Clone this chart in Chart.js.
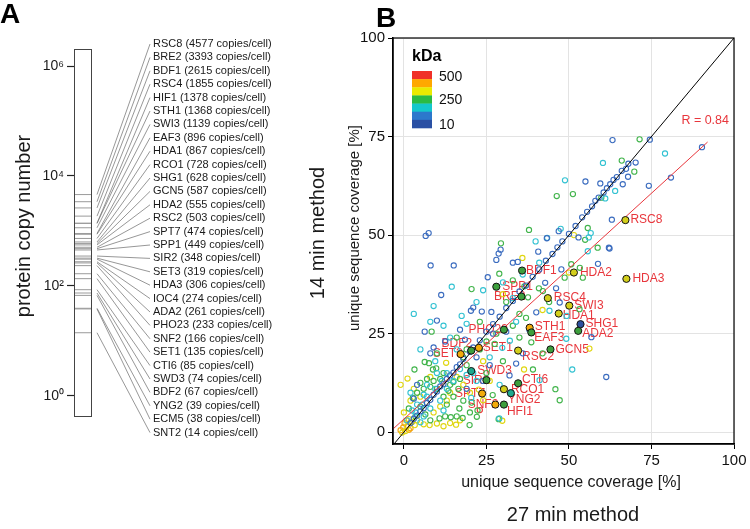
<!DOCTYPE html>
<html>
<head>
<meta charset="utf-8">
<script src="https://cdn.jsdelivr.net/npm/chart.js@4.4.1/dist/chart.umd.min.js"></script>
<style>
  body { margin: 0; background: #fff; }
  canvas { position: absolute; top: 0; }
  #chartA { left: 0; }
  #chartB { left: 300px; }
</style>
</head>
<body>
<canvas id="chartA" width="300" height="529"></canvas>
<canvas id="chartB" width="450" height="529"></canvas>
<script>
const FONT = "'Liberation Sans', Arial, sans-serif";

// ---- panel A: copy numbers ----
const proteinNames = ['RSC8', 'BRE2', 'BDF1', 'RSC4', 'HIF1', 'STH1', 'SWI3', 'EAF3', 'HDA1', 'RCO1',
    'SHG1', 'GCN5', 'HDA2', 'RSC2', 'SPT7', 'SPP1', 'SIR2', 'SET3', 'HDA3', 'IOC4',
    'ADA2', 'PHO23', 'SNF2', 'SET1', 'CTI6', 'SWD3', 'BDF2', 'YNG2', 'ECM5', 'SNT2'];
const copiesPerCell = [4577, 3393, 2615, 1855, 1378, 1368, 1139, 896, 867, 728,
    628, 587, 555, 503, 474, 449, 348, 319, 306, 274,
    261, 233, 166, 135, 85, 74, 67, 39, 38, 14];
const copyTicks = [1, 100, 10000, 1000000];

// ---- panel B: coverage 27 min (x) vs 14 min (y) ----
const axisTicks = [0, 25, 50, 75, 100];
const kdaLegendLabels = ['500', '250', '10'];
const pearsonR = 0.84;
const identityX = [-3.3, 100];
const identityY = [-3.3, 100];
const fitX = [-3.3, 92];
const fitY = [0.8, 73.6];

// hollow points, grouped by kDa colour band
const bluePts = [[2,2.3],[3,3.4],[4,4.2],[5,5.3],[6,6.1],[7,7.4],[8,8.2],[9,9.5],[10,10.3],[11,11.6],[12,12.2],[13,13.5],
    [14,14.4],[15,15.1],[16,16.5],[17,17.2],[18,18.6],[20,20.4],[21,21.5],[23,23.3],[25,25.5],[27,27.4],[29,29.3],
    [31,31.5],[33,33.3],[35,35.7],[37,37.2],[39,39.4],[41,41.3],[43,43.5],[45,45.2],[46.5,46.9],[48,48.4],[50,50.3],
    [52,52.3],[54,54.5],[55.5,55.9],[57,57.3],[58,58.7],[59,59.5],[60.5,60.8],[61.5,61.9],[62.5,62.9],[63.5,64],
    [64.5,64.7],[66,66.3],[68,68.1],[74.5,74.2],
    [6.6,49.8],[7.5,50.5],[8.1,42.3],[15.1,42.3],[11.3,34.8],[10,28.3],[6.3,25.5],[20.3,30.8],[21,31.6],[25.4,39.3],
    [28.7,45.3],[29.3,46.3],[28,43.7],[23.6,30.6],[26.5,30.5],[33,43],[34.5,43.2],[40.7,45.8],[46.9,51],[52.9,49.4],
    [62.1,46.8],[63,53.9],[58.8,42.7],[47.7,41.3],[42.8,37.9],[46.1,36.5],[40.1,30.4],[47.2,32.9],[56.8,24.1],[61.3,14],
    [34,17.4],[32,14.4],[63.2,74.1],[90.3,72.3],[70.2,68.4],[67.3,66.8],[67.9,64.8],[55,63.6],[59.5,63.1],[66.3,62.9],
    [80.9,64.6],[74.2,62.5],[43.3,49.2],[62.3,46.6],[12.5,23],[9,21.5],[17,26],[18.5,23.5],[4,12],[3,8.5],[27,25],
    [31,25.5],[26,17],[36,20],[38,26],[22,19],[24,13],[19,11],[8,20]];
const cyanPts = [[14.5,36.9],[9,32],[17.5,29.5],[39.9,48.4],[43.4,49.3],[47.5,51.6],[55.7,45.9],[60.3,68.3],[79.1,70.7],
    [48.8,63.9],[64,61.2],[61,59.3],[56.6,50.5],[56,49.4],[44.1,30.8],[49.3,29.5],[49.2,23.7],[51,15.9],[41.1,13.2],
    [32.1,23.2],[29.8,21.4],[3,30],[5,21],[8,28],[12,27],[19,27.5],[22,33],[24,36],[30,38],[36,40],[41,43],[14,24],
    [16,21],[9.5,18],[2,10],[4,7],[6,9.5],[8,6],[11,8],[13,11],[15,13],[17,16],[19,14.5],[21,15],[22,13],[20.4,8.7],
    [28.9,3.5],[26,19],[29,12],[7,12],[10,15],[5,2.5],[2.5,5.5],[12,5.5],[33,34],[34,28],[3.5,5],[5.5,7],[7,9],
    [9.5,11],[11.5,13],[13,15],[6,4],[1,3]];
const greenPts = [[71.4,74.3],[66,68.9],[69.8,66.1],[46.3,59.9],[51.2,60.4],[59.8,59.5],[55.7,51.8],[54.9,48.8],[37.9,51.3],
    [58.7,46.8],[53.3,41.7],[50.7,42.6],[48.7,39.2],[54.2,39.2],[42.1,35.8],[40.9,36.5],[37.6,34.2],[53.2,31.2],[47.2,8.1],
    [45.9,10.9],[39.1,15.9],[38.6,22.8],[27.5,22.4],[28.7,3.3],[22.1,3.9],[22.3,5.5],[26.9,9.4],[20.5,36.3],[8.4,25.5],
    [29.4,47.9],[28.9,40.2],[3.2,15.9],[8.8,15.9],[9.8,16.2],[6.3,17.8],[7.6,17.5],[2.7,8.7],[10.8,3.5],[12.5,4],
    [14.2,3.8],[16,4],[17.8,3.6],[19.9,1.8],[16.8,6],[12,9],[13.5,10.5],[15,12.7],[16.5,11],[14,12],[20,5],[20.5,7.5],
    [4,10],[5,12.5],[6,11],[7,13.5],[8,11.5],[9,13],[10,11],[11,13.5],[12,15],[5,6.5],[6.5,4.5],[8,3],[3.5,4],[1.5,6],
    [18,19],[23,21],[25,23],[28,25],[33,27],[35,30],[31,33],[37,29],[25,15],[30,18],[35,24],[42,20],[44,33],[10,20],
    [16,24],[19,21],[15,9],[18,8],[13,7],[36.5,37],[33,38.5],[23,28],[19,17],[17,13.5]];
const yellowPts = [[51.5,50],[35.9,44.2],[56.2,21.2],[36.4,15.9],[1.1,13.6],[12.8,17.6],[1.5,3.3],[2.5,2.6],[3.3,1.8],
    [7.8,1.8],[10,2.2],[12,1.5],[14,2.3],[15.8,1.9],[22.7,10.8],[24,8.1],[29.8,2.9],[0.5,0.3],[-0.5,-0.1],[1,1.5],[4,3],
    [6,2],[9,5],[11,6.5],[13,8],[5,9],[3,11],[8,14],[14,10],[16,14],[18,12],[20,10],[0,5],[2,8],[-1,12],[26,13],[17,3],
    [30,35],[42,31],[50,40.5],[24,18]];
const orangePts = [[0.2,2.3],[1.5,0.6],[-0.2,1.2],[0.8,3],[2,1],[17,20],[-1,0.5]];
const redPts = [[23,5.6]];

// highlighted complex members
const hlNames = ['RSC8', 'BDF1', 'HDA2', 'HDA3', 'SPP1', 'BRE2', 'RSC4', 'SWI3', 'HDA1', 'SHG1', 'ADA2', 'STH1', 'EAF3', 'PHO23',
    'GCN5', 'RSC2', 'SET1', 'BDF2', 'SET3', 'SWD3', 'SIR2', 'CTI6', 'RCO1', 'YNG2', 'SPT7', 'SNF2', 'HFI1'];
const hlX27 = [67.1, 35.8, 51.5, 67.4, 28.0, 35.6, 43.6, 50.1, 46.9, 53.5, 52.8, 38.1, 38.6, 30.3,
    44.4, 34.6, 22.7, 20.4, 17.2, 20.4, 25.0, 34.6, 30.3, 32.4, 23.7, 27.7, 30.3];
const hlY14 = [53.8, 41.0, 40.5, 38.9, 36.9, 34.4, 34.0, 32.1, 30.1, 27.4, 25.7, 26.5, 25.3, 26.0,
    21.0, 20.7, 21.4, 20.7, 19.8, 15.5, 13.2, 12.4, 10.9, 9.9, 9.8, 7.0, 7.0];
const hlBand = ['yellow', 'green', 'yellow', 'yellow', 'green', 'green', 'yellow', 'yellow', 'yellow', 'blue', 'green', 'orange', 'green', 'green',
    'green', 'yellow', 'orange', 'green', 'orange', 'cyan', 'green', 'green', 'yellow', 'cyan', 'orange', 'orange', 'green'];

// ---- styles / layout ----
const bandColors = { blue: '#3b6cbf', cyan: '#33c2d2', green: '#41b44b', yellow: '#e0d610', orange: '#f5a40c', red: '#ea3434' };
const hlFill = { blue: '#2c4f9e', cyan: '#1fa98e', green: '#3d9f3d', yellow: '#d3cf1b', orange: '#f3ab0a' };
const legendBar = ['#f03028', '#ffa800', '#eaea00', '#2bbb43', '#14c8cc', '#2c78cc', '#2a50a4'];
const LABEL_RED = '#e8363c';
// label offsets [dx, dy, align]
const hlLabelPos = {
    RSC8: [5, 0, 'left'], BDF1: [4, 0, 'left'], HDA2: [6, 0, 'left'], HDA3: [6, 0, 'left'], SPP1: [6, 0, 'left'],
    BRE2: [4, 0, 'right'], RSC4: [6, 0, 'left'], SWI3: [5, 0, 'left'], HDA1: [4, 2, 'left'], SHG1: [5, 0, 'left'],
    ADA2: [4, 3, 'left'], STH1: [5, -1, 'left'], EAF3: [3, 5, 'left'], PHO23: [4, 0, 'right'], GCN5: [5, 0, 'left'],
    RSC2: [4, 6, 'left'], SET1: [4, 0, 'left'], BDF2: [1, -7, 'right'], SET3: [2, 0, 'right'], SWD3: [6, 0, 'left'],
    SIR2: [3, 1, 'right'], CTI6: [4, -4, 'left'], RCO1: [7, 0, 'left'], YNG2: [-3, 7, 'left'], SPT7: [3, 0, 'right'],
    SNF2: [3, 0, 'right'], HFI1: [3, 7, 'left']
};

Chart.defaults.font.family = FONT;
Chart.defaults.color = '#1a1a1a';

const supDigits = { 0: '\u2070', 2: '\u00B2', 4: '\u2074', 6: '\u2076' };

// ===== panel A =====
const panelA = {
    id: 'panelA',
    afterDraw(chart) {
        const { ctx, chartArea: a } = chart;
        const ys = chart.scales.y;
        ctx.save();
        ctx.strokeStyle = '#444';
        ctx.lineWidth = 1;
        ctx.strokeRect(a.left + 0.5, a.top + 0.5, a.width - 1, a.height - 1);

        const slotTop = 44, slotGap = 13.4, labelX = 153;
        ctx.font = `11px ${FONT}`;
        ctx.textAlign = 'left';
        ctx.textBaseline = 'middle';
        proteinNames.forEach((name, i) => {
            const y0 = ys.getPixelForValue(copiesPerCell[i]);
            const ly = slotTop + i * slotGap;
            ctx.strokeStyle = '#6a6a6a';
            ctx.lineWidth = 0.7;
            ctx.beginPath();
            ctx.moveTo(a.right + 5, y0);
            ctx.lineTo(labelX - 3, ly);
            ctx.stroke();
            ctx.fillStyle = '#1a1a1a';
            ctx.fillText(`${name} (${copiesPerCell[i]} copies/cell)`, labelX, ly);
        });

        ctx.fillStyle = '#000';
        ctx.font = `bold 28px ${FONT}`;
        ctx.textBaseline = 'alphabetic';
        ctx.fillText('A', 0, 23);

        ctx.translate(24, 226);
        ctx.rotate(-Math.PI / 2);
        ctx.font = `20px ${FONT}`;
        ctx.textAlign = 'center';
        ctx.textBaseline = 'middle';
        ctx.fillStyle = '#1a1a1a';
        ctx.fillText('protein copy number', 0, 0);
        ctx.restore();
    }
};

new Chart(document.getElementById('chartA'), {
    type: 'scatter',
    data: {
        datasets: [{
            data: copiesPerCell.map(c => ({ x: 0.5, y: c })),
            pointStyle: 'line',
            pointRadius: 9,
            pointBorderColor: '#9a9a9a',
            pointBorderWidth: 1
        }]
    },
    options: {
        responsive: false,
        animation: false,
        devicePixelRatio: 1,
        layout: { padding: { left: 0, top: 49, right: 208, bottom: 112 } },
        plugins: { legend: { display: false }, tooltip: { enabled: false } },
        scales: {
            x: { type: 'linear', min: 0, max: 1, display: false },
            y: {
                type: 'logarithmic',
                min: 0.41,
                max: 2.04e6,
                afterBuildTicks: s => { s.ticks = copyTicks.map(v => ({ value: v })); },
                afterFit: s => { s.width = 74; },
                grid: { drawOnChartArea: false, tickLength: 7, tickColor: '#222', tickWidth: 1.2 },
                border: { display: false },
                ticks: {
                    font: { size: 14 },
                    padding: 3,
                    callback: v => '10' + supDigits[Math.round(Math.log10(v))]
                }
            }
        }
    },
    plugins: [panelA]
});

// ===== panel B =====
const toXY = pts => pts.map(([x, y]) => ({ x, y }));
const hollow = (pts, band) => ({
    data: toXY(pts),
    pointRadius: 2.6,
    pointBorderWidth: 1.1,
    pointBackgroundColor: 'rgba(0,0,0,0)',
    pointBorderColor: bandColors[band]
});

const panelB = {
    id: 'panelB',
    beforeDatasetsDraw(chart) {
        const { ctx } = chart;
        const meta = chart.getDatasetMeta(0);
        ctx.save();
        ctx.font = `12px ${FONT}`;
        ctx.fillStyle = LABEL_RED;
        ctx.textBaseline = 'middle';
        hlNames.forEach((name, i) => {
            const el = meta.data[i];
            const [dx, dy, align] = hlLabelPos[name];
            ctx.textAlign = align;
            ctx.fillText(name, el.x + dx, el.y + dy);
        });
        ctx.restore();
    },
    afterDraw(chart) {
        const { ctx, chartArea: a } = chart;
        ctx.save();
        ctx.strokeStyle = '#000';
        ctx.lineWidth = 1.2;
        ctx.strokeRect(a.left, a.top, a.width, a.height);

        // kDa colour legend
        ctx.fillStyle = '#000';
        ctx.font = `bold 16px ${FONT}`;
        ctx.textAlign = 'left';
        ctx.textBaseline = 'alphabetic';
        ctx.fillText('kDa', a.left + 19, a.top + 23);
        const barX = a.left + 19, barTop = a.top + 33, segH = 57 / legendBar.length;
        legendBar.forEach((c, i) => {
            ctx.fillStyle = c;
            ctx.fillRect(barX, barTop + i * segH, 20, segH + 0.3);
        });
        ctx.fillStyle = '#111';
        ctx.font = `14px ${FONT}`;
        ctx.textBaseline = 'middle';
        [39, 62, 87].forEach((off, i) => ctx.fillText(kdaLegendLabels[i], a.left + 46, a.top + off));

        // correlation
        ctx.fillStyle = LABEL_RED;
        ctx.font = `12.5px ${FONT}`;
        ctx.textAlign = 'right';
        ctx.fillText(`R = ${pearsonR}`, a.right - 5, a.top + 83);

        // titles
        ctx.fillStyle = '#000';
        ctx.font = `bold 28px ${FONT}`;
        ctx.textAlign = 'left';
        ctx.textBaseline = 'alphabetic';
        ctx.fillText('B', 76, 27);

        ctx.fillStyle = '#1a1a1a';
        ctx.textAlign = 'center';
        ctx.textBaseline = 'middle';
        ctx.font = `16px ${FONT}`;
        ctx.fillText('unique sequence coverage [%]', 271, 483);
        ctx.font = `20px ${FONT}`;
        ctx.fillText('27 min method', 273, 515);

        ctx.save();
        ctx.translate(55, 228);
        ctx.rotate(-Math.PI / 2);
        ctx.font = `15px ${FONT}`;
        ctx.fillText('unique sequence coverage [%]', 0, 0);
        ctx.restore();

        ctx.translate(18, 233);
        ctx.rotate(-Math.PI / 2);
        ctx.font = `20px ${FONT}`;
        ctx.fillText('14 min method', 0, 0);
        ctx.restore();
    }
};

const axisCommon = {
    type: 'linear',
    afterBuildTicks: s => { s.ticks = axisTicks.map(v => ({ value: v })); },
    grid: { color: '#e3e3e3', tickColor: '#000', tickLength: 5 },
    border: { color: '#000', width: 1.5 },
    ticks: { font: { size: 15 }, color: '#111', padding: 3, maxRotation: 0 }
};

new Chart(document.getElementById('chartB'), {
    type: 'scatter',
    data: {
        datasets: [
            {
                data: hlNames.map((n, i) => ({ x: hlX27[i], y: hlY14[i] })),
                pointRadius: 3.6,
                pointBorderWidth: 1,
                pointBorderColor: '#111',
                pointBackgroundColor: hlBand.map(b => hlFill[b])
            },
            {
                data: identityX.map((x, i) => ({ x, y: identityY[i] })),
                showLine: true, borderColor: '#000', borderWidth: 1, pointRadius: 0
            },
            {
                data: fitX.map((x, i) => ({ x, y: fitY[i] })),
                showLine: true, borderColor: '#e8363c', borderWidth: 1, pointRadius: 0
            },
            hollow(bluePts, 'blue'),
            hollow(cyanPts, 'cyan'),
            hollow(greenPts, 'green'),
            hollow(yellowPts, 'yellow'),
            hollow(orangePts, 'orange'),
            hollow(redPts, 'red')
        ]
    },
    options: {
        responsive: false,
        animation: false,
        devicePixelRatio: 1,
        layout: { padding: { left: 0, right: 16, top: 38, bottom: 0 } },
        plugins: { legend: { display: false }, tooltip: { enabled: false } },
        scales: {
            x: { ...axisCommon, min: -3.3, max: 100, afterFit: s => { s.height = 85; } },
            y: { ...axisCommon, min: -3, max: 100, afterFit: s => { s.width = 93; } }
        }
    },
    plugins: [panelB]
});
</script>
</body>
</html>
